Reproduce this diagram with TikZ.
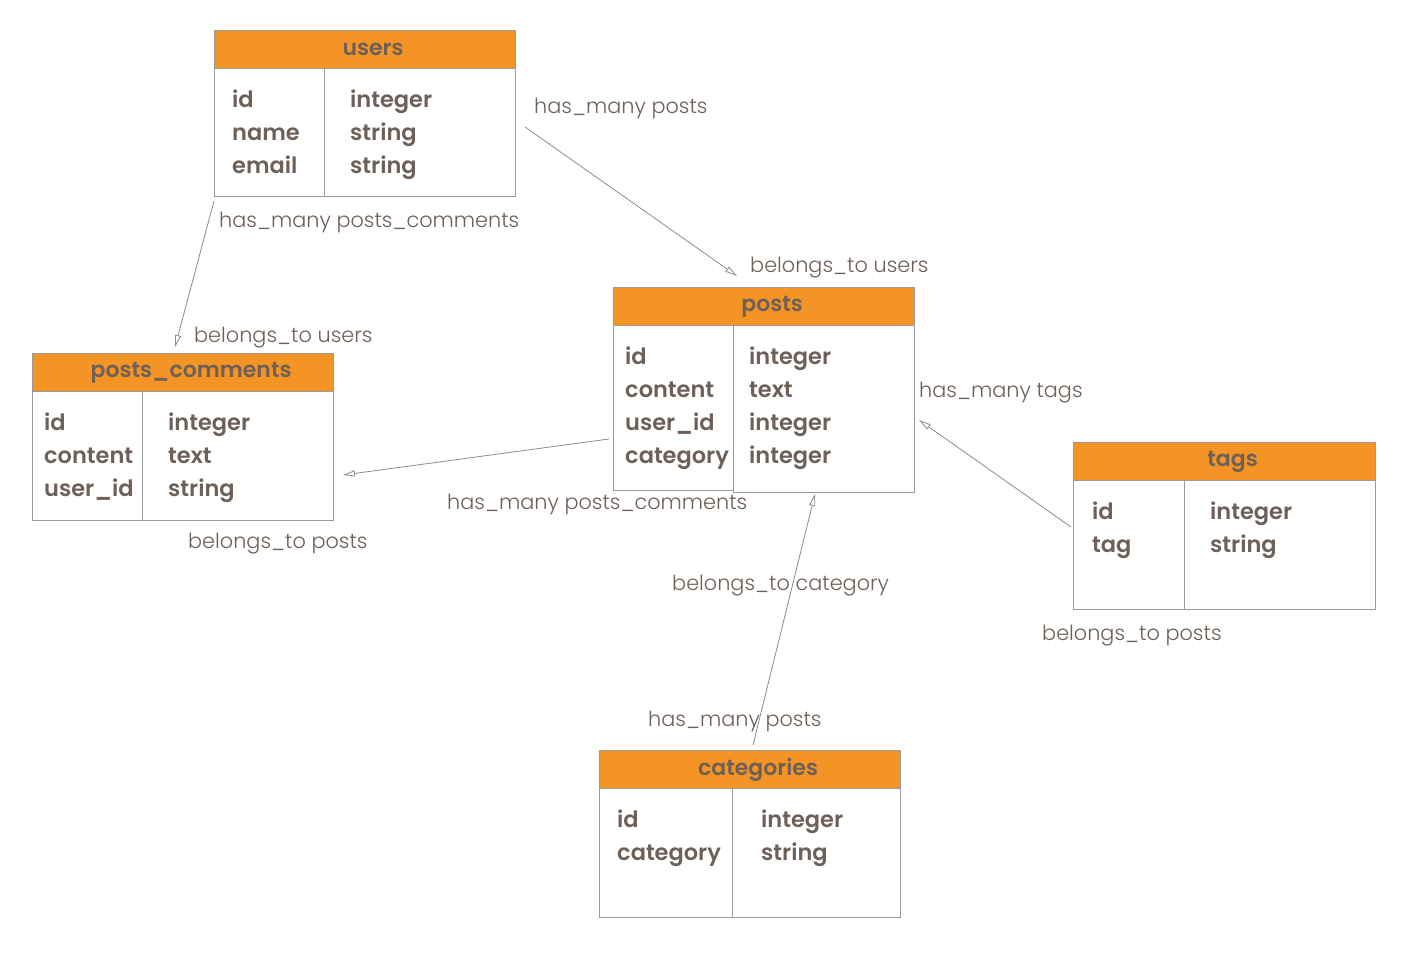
\documentclass[tikz,border=0pt]{standalone}
\usepackage{fontspec}
\setmainfont{Poppins}[UprightFont=* Light, BoldFont=* SemiBold]
\usetikzlibrary{arrows.meta}
\definecolor{hdrorange}{HTML}{F39424}
\definecolor{txtc}{HTML}{6E6058}
\definecolor{brd}{HTML}{9A9A9A}
\definecolor{lnc}{HTML}{8C8C8C}
\begin{document}
\begin{tikzpicture}[x=1pt,y=-1pt,
  hdr/.style={draw=brd, line width=1.2pt, fill=hdrorange, anchor=north west, inner sep=0pt, minimum height=38pt, text=txtc, font=\fontsize{22}{24}\selectfont\bfseries},
  cell/.style={draw=brd, line width=1.2pt, fill=white, anchor=north west, inner sep=0pt},
  fld/.style={anchor=base west, inner sep=0pt, text=txtc, font=\fontsize{22.5}{24}\selectfont\bfseries},
  lbl/.style={anchor=west, inner sep=0pt, yshift=-3pt, text=txtc, font=\fontsize{20.8}{24}\selectfont},
  rel/.style={draw=lnc, line width=0.8pt, -{Triangle[open,length=12pt,width=6pt]}}]
\useasboundingbox[fill=white] (0,0) rectangle (1412,977);

% users
\node[hdr, minimum width=301pt] (users) at (214,30) {\hspace*{16pt}users};
\node[cell, minimum width=110pt, minimum height=128pt] (users-k) at (214,68) {};
\node[cell, minimum width=191pt, minimum height=128pt] (users-t) at (324,68) {};
\foreach \k/\t [count=\i] in {id/integer,name/string,email/string}{
  \node[fld] (users-k\i) at (232,{107+(\i-1)*33}) {\k};
  \node[fld] (users-t\i) at (350,{107+(\i-1)*33}) {\t};
}

% posts
\node[hdr, minimum width=301pt] (posts) at (613,287) {\hspace*{16pt}posts};
\node[cell, minimum width=120pt, minimum height=165pt] (posts-k) at (613,325) {};
\node[cell, minimum width=181pt, minimum height=167pt] (posts-t) at (733,325) {};
\foreach \k/\t [count=\i] in {id/integer,content/text,user\_id/integer,category/integer}{
  \node[fld] (posts-k\i) at (625,{364+(\i-1)*33}) {\k};
  \node[fld] (posts-t\i) at (749,{364+(\i-1)*33}) {\t};
}

% posts_comments
\node[hdr, minimum width=301pt] (pc) at (32,353) {\hspace*{16pt}posts\_comments};
\node[cell, minimum width=110pt, minimum height=129pt] (pc-k) at (32,391) {};
\node[cell, minimum width=191pt, minimum height=129pt] (pc-t) at (142,391) {};
\foreach \k/\t [count=\i] in {id/integer,content/text,user\_id/string}{
  \node[fld] (pc-k\i) at (44,{430+(\i-1)*33}) {\k};
  \node[fld] (pc-t\i) at (168,{430+(\i-1)*33}) {\t};
}

% tags
\node[hdr, minimum width=302pt] (tags) at (1073,442) {\hspace*{16pt}tags};
\node[cell, minimum width=111pt, minimum height=129pt] (tags-k) at (1073,480) {};
\node[cell, minimum width=191pt, minimum height=129pt] (tags-t) at (1184,480) {};
\foreach \k/\t [count=\i] in {id/integer,tag/string}{
  \node[fld] (tags-k\i) at (1092,{519+(\i-1)*33}) {\k};
  \node[fld] (tags-t\i) at (1210,{519+(\i-1)*33}) {\t};
}

% categories
\node[hdr, minimum width=301pt] (cat) at (599,750) {\hspace*{16pt}categories};
\node[cell, minimum width=133pt, minimum height=129pt] (cat-k) at (599,788) {};
\node[cell, minimum width=168pt, minimum height=129pt] (cat-t) at (732,788) {};
\foreach \k/\t [count=\i] in {id/integer,category/string}{
  \node[fld] (cat-k\i) at (617,{827+(\i-1)*33}) {\k};
  \node[fld] (cat-t\i) at (761,{827+(\i-1)*33}) {\t};
}

% connector end points
\coordinate (e1s) at (525,127); \coordinate (e1t) at (737,276);
\coordinate (e2s) at (214,201); \coordinate (e2t) at (175,347);
\coordinate (e3s) at (609,439); \coordinate (e3t) at (343,475);
\coordinate (e4s) at (1071,527); \coordinate (e4t) at (919,420);
\coordinate (e5s) at (753,745); \coordinate (e5t) at (815,494);
\draw[rel] (e1s) -- (e1t);
\draw[rel] (e2s) -- (e2t);
\draw[rel] (e3s) -- (e3t);
\draw[rel] (e4s) -- (e4t);
\draw[rel] (e5s) -- (e5t);

% labels
\node[lbl] (l1) at (534,105) {has\_many posts};
\node[lbl] (l2) at (219,219) {has\_many posts\_comments};
\node[lbl] (l3) at (750,265) {belongs\_to users};
\node[lbl] (l4) at (194,335) {belongs\_to users};
\node[lbl] (l5) at (919,390) {has\_many tags};
\node[lbl] (l6) at (447,501) {has\_many posts\_comments};
\node[lbl] (l7) at (188,541) {belongs\_to posts};
\node[lbl] (l8) at (672,583) {belongs\_to category};
\node[lbl] (l9) at (1042,633) {belongs\_to posts};
\node[lbl] (l10) at (648,718) {has\_many posts};
\end{tikzpicture}
\end{document}
